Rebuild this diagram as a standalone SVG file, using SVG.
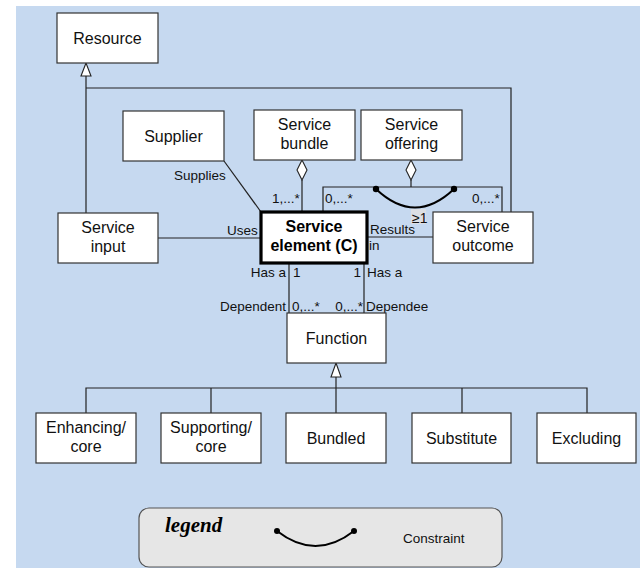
<svg xmlns="http://www.w3.org/2000/svg" width="640" height="568" viewBox="0 0 640 568">
  <style>
    .box { fill: #ffffff; stroke: #333333; stroke-width: 1.2; }
    .core { fill: #ffffff; stroke: #000000; stroke-width: 3.2; }
    .t { font-family: "Liberation Sans", Arial, sans-serif; font-size: 16px; fill: #111111; text-anchor: middle; }
    .tb { font-family: "Liberation Sans", Arial, sans-serif; font-size: 16px; font-weight: bold; fill: #000000; text-anchor: middle; }
    .lbl { font-family: "Liberation Sans", Arial, sans-serif; font-size: 13.5px; fill: #111111; }
    .end { text-anchor: end; }
    .ln { fill: none; stroke: #222222; stroke-width: 1.2; }
    .gen { fill: #ffffff; stroke: #222222; stroke-width: 1.1; }
    .agg { fill: #ffffff; stroke: #222222; stroke-width: 1.1; }
    .arc { fill: none; stroke: #000000; stroke-width: 2; }
  </style>

  <!-- canvas -->
  <rect x="16" y="6" width="624" height="562" fill="#c6d9f0"/>

  <!-- connectors -->
  <g id="connectors">
    <!-- Service input / Service outcome generalise to Resource -->
    <polyline class="ln" points="86,76 86,213"/>
    <polyline class="ln" points="86,88 511,88 511,212"/>
    <polygon class="gen" points="86,63 81,76 91,76"/>

    <!-- Supplier supplies Service element -->
    <line class="ln" x1="224" y1="161" x2="261" y2="212"/>

    <!-- Service bundle aggregation -->
    <line class="ln" x1="302" y1="180" x2="302" y2="212"/>
    <polygon class="agg" points="302,160 297,170 302,180 307,170"/>

    <!-- Service offering aggregation -->
    <polyline class="ln" points="323,212 323,187 502,187 502,212"/>
    <line class="ln" x1="411" y1="180" x2="411" y2="187"/>
    <polygon class="agg" points="411,160 406,170 411,180 416,170"/>

    <!-- constraint arc between the offering links -->
    <path class="arc" d="M376,189 Q415,226 454,189"/>
    <circle cx="376" cy="189" r="3.2" fill="#000"/>
    <circle cx="454" cy="189" r="3.2" fill="#000"/>

    <!-- Uses / Results in -->
    <line class="ln" x1="158" y1="238" x2="261" y2="238"/>
    <line class="ln" x1="367" y1="237" x2="433" y2="237"/>

    <!-- dependent / dependee -->
    <line class="ln" x1="289" y1="263" x2="289" y2="313"/>
    <line class="ln" x1="364" y1="263" x2="364" y2="313"/>

    <!-- Function specialisations -->
    <polyline class="ln" points="336,377 336,413"/>
    <polyline class="ln" points="86,413 86,388 587,388 587,413"/>
    <line class="ln" x1="211" y1="388" x2="211" y2="413"/>
    <line class="ln" x1="462" y1="388" x2="462" y2="413"/>
    <polygon class="gen" points="336,363 331,377 341,377"/>
  </g>

  <!-- connector labels -->
  <g id="labels">
    <text class="lbl" x="174" y="180">Supplies</text>
    <text class="lbl" x="272" y="203">1,...*</text>
    <text class="lbl" x="325" y="203">0,...*</text>
    <text class="lbl" x="472" y="203">0,...*</text>
    <rect x="411" y="209" width="15" height="15" fill="#dcdfe4"/>
    <text class="lbl" x="412" y="223" style="font-size:14px">≥1</text>
    <text class="lbl" x="227" y="235">Uses</text>
    <text class="lbl" x="370" y="234">Results</text>
    <text class="lbl" x="369" y="250">in</text>
    <text class="lbl end" x="286" y="277">Has a</text>
    <text class="lbl" x="293" y="277">1</text>
    <text class="lbl end" x="361" y="277">1</text>
    <text class="lbl" x="367" y="277">Has a</text>
    <text class="lbl end" x="286" y="311">Dependent</text>
    <text class="lbl" x="292" y="311">0,...*</text>
    <text class="lbl end" x="363" y="311">0,...*</text>
    <text class="lbl" x="366" y="311">Dependee</text>
  </g>

  <!-- nodes -->
  <g id="resource">
    <rect class="box" x="57" y="13" width="101" height="50"/>
    <text class="t" x="107.5" y="43.5">Resource</text>
  </g>
  <g id="supplier">
    <rect class="box" x="123" y="111" width="101" height="50"/>
    <text class="t" x="173.5" y="141.5">Supplier</text>
  </g>
  <g id="service-bundle">
    <rect class="box" x="254" y="110" width="101" height="50"/>
    <text class="t" x="304.5" y="130">Service</text>
    <text class="t" x="304.5" y="149">bundle</text>
  </g>
  <g id="service-offering">
    <rect class="box" x="361" y="110" width="101" height="50"/>
    <text class="t" x="411.5" y="130">Service</text>
    <text class="t" x="411.5" y="149">offering</text>
  </g>
  <g id="service-input">
    <rect class="box" x="58" y="213" width="100" height="50"/>
    <text class="t" x="108" y="233">Service</text>
    <text class="t" x="108" y="252">input</text>
  </g>
  <g id="service-element">
    <rect class="core" x="261" y="212" width="106" height="51"/>
    <text class="tb" x="314" y="232">Service</text>
    <text class="tb" x="314" y="251">element (C)</text>
  </g>
  <g id="service-outcome">
    <rect class="box" x="433" y="212" width="100" height="51"/>
    <text class="t" x="483" y="232">Service</text>
    <text class="t" x="483" y="251">outcome</text>
  </g>
  <g id="function">
    <rect class="box" x="287" y="313" width="99" height="50"/>
    <text class="t" x="336.5" y="343.5">Function</text>
  </g>
  <g id="enhancing-core">
    <rect class="box" x="36" y="413" width="100" height="50"/>
    <text class="t" x="86" y="433">Enhancing/</text>
    <text class="t" x="86" y="452">core</text>
  </g>
  <g id="supporting-core">
    <rect class="box" x="161" y="413" width="100" height="50"/>
    <text class="t" x="211" y="433">Supporting/</text>
    <text class="t" x="211" y="452">core</text>
  </g>
  <g id="bundled">
    <rect class="box" x="286" y="413" width="100" height="50"/>
    <text class="t" x="336" y="443.5">Bundled</text>
  </g>
  <g id="substitute">
    <rect class="box" x="412" y="413" width="99" height="50"/>
    <text class="t" x="461.5" y="443.5">Substitute</text>
  </g>
  <g id="excluding">
    <rect class="box" x="537" y="413" width="99" height="50"/>
    <text class="t" x="586.5" y="443.5">Excluding</text>
  </g>

  <!-- legend -->
  <g id="legend">
    <rect x="139" y="508" width="363" height="59" rx="10" ry="10" fill="#e6e6e6" stroke="#555555" stroke-width="1.2"/>
    <text x="165" y="532" font-family="'Liberation Serif', 'Times New Roman', serif" font-size="21" font-style="italic" font-weight="bold" fill="#000">legend</text>
    <path class="arc" d="M277,531 Q315.5,561 354,531"/>
    <circle cx="277" cy="531" r="3" fill="#000"/>
    <circle cx="354" cy="531" r="3" fill="#000"/>
    <text class="lbl" x="403" y="543" style="font-size:13.5px">Constraint</text>
  </g>
</svg>
